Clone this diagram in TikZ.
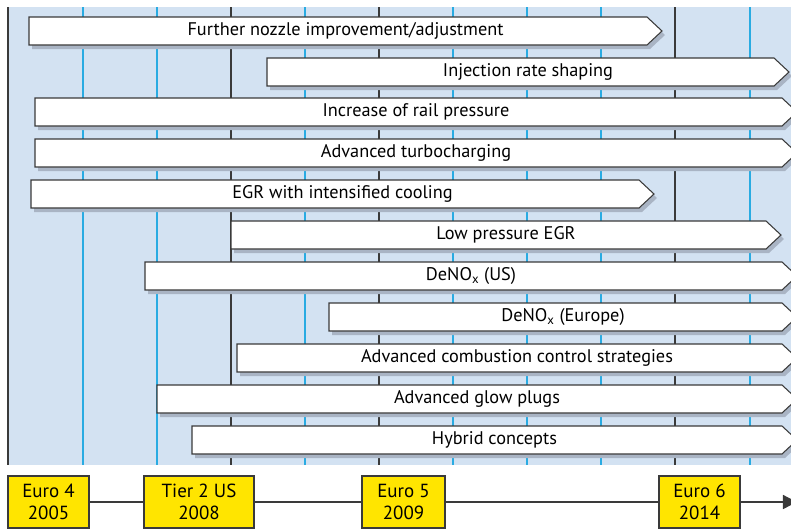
\documentclass[tikz,border=0pt]{standalone}
\usepackage{fontspec}
\setmainfont{PT Sans}
\usetikzlibrary{arrows.meta}

\definecolor{panelblue}{HTML}{D3E2F2}
\definecolor{gridblue}{HTML}{29ABE2}
\definecolor{gridgray}{HTML}{3A3A3A}
\definecolor{shadowgray}{HTML}{A9B4C4}
\definecolor{milestoneyellow}{HTML}{FFE500}

\tikzset{
  barbox/.style={draw=gridgray, fill=white, line width=0.75pt, line join=miter},
  barshade/.style={fill=shadowgray},
  barlabel/.style={font=\fontsize{13}{15}\selectfont, inner sep=0pt},
  milestone/.style={draw=gridgray, fill=milestoneyellow, line width=0.75pt,
    align=center, font=\fontsize{13.5}{16}\selectfont, inner sep=0pt},
  timeline/.style={draw=gridgray, line width=0.9pt}
}

% one technology bar: name, left edge, tip, top edge, label
\newcommand{\trendbar}[5]{%
  \fill[barshade] (#2+3,#4+4) -- (#3-15+3,#4+4) -- (#3+3,#4+14+4) -- (#3-15+3,#4+28+4) -- (#2+3,#4+28+4) -- cycle;
  \draw[barbox] (#2,#4) -- (#3-15,#4) -- (#3,#4+14) -- (#3-15,#4+28) -- (#2,#4+28) -- cycle;
  \node[barlabel] (#1) at ({(#2+#3)/2},#4+14) {#5};%
}

\begin{document}
\begin{tikzpicture}[x=0.025cm, y=-0.025cm]
\useasboundingbox (0,0) rectangle (791,529);
\clip (0,0) rectangle (791,529);

% Background panel
\fill[panelblue] (8,7) rectangle (800,465);

% Year grid
\draw[gridblue, line width=1pt] (83,7) -- (83,465);
\draw[gridblue, line width=1pt] (157,7) -- (157,465);
\draw[gridblue, line width=1pt] (305,7) -- (305,465);
\draw[gridblue, line width=1pt] (453,7) -- (453,465);
\draw[gridblue, line width=1pt] (527,7) -- (527,465);
\draw[gridblue, line width=1pt] (601,7) -- (601,465);
\draw[gridblue, line width=1pt] (750,7) -- (750,465);
\draw[gridgray, line width=0.75pt] (8,7) -- (8,465);
\draw[gridgray, line width=0.75pt] (231,7) -- (231,465);
\draw[gridgray, line width=0.75pt] (379,7) -- (379,465);
\draw[gridgray, line width=0.75pt] (675,7) -- (675,465);

% Technology bars
\trendbar{nozzle}{29}{662}{17}{Further nozzle improvement/adjustment}
\trendbar{rate}{267}{789}{58}{Injection rate shaping}
\trendbar{rail}{35}{797}{98}{Increase of rail pressure}
\trendbar{turbo}{35}{797}{139}{Advanced turbocharging}
\trendbar{egr}{31}{654}{180}{EGR with intensified cooling}
\trendbar{lpegr}{231}{781}{221}{Low pressure EGR}
\trendbar{denoxus}{145}{797}{262}{DeNO\textsubscript{x} (US)}
\trendbar{denoxeu}{329}{797}{303}{DeNO\textsubscript{x} (Europe)}
\trendbar{combustion}{237}{797}{344}{Advanced combustion control strategies}
\trendbar{glow}{157}{797}{385}{Advanced glow plugs}
\trendbar{hybrid}{192}{797}{426}{Hybrid concepts}

% Emission limits
\node[milestone, minimum width=81*0.025cm, minimum height=52*0.025cm] (euro4) at (48.5,502) {Euro 4\\2005};
\node[milestone, minimum width=110*0.025cm, minimum height=52*0.025cm] (tier2) at (199,502) {Tier 2 US\\2008};
\node[milestone, minimum width=83*0.025cm, minimum height=52*0.025cm] (euro5) at (403.5,502) {Euro 5\\2009};
\node[milestone, minimum width=81*0.025cm, minimum height=52*0.025cm] (euro6) at (699.5,502) {Euro 6\\2014};
\coordinate (tlend) at (797,502);

\draw[timeline] (euro4) -- (tier2);
\draw[timeline] (tier2) -- (euro5);
\draw[timeline] (euro5) -- (euro6);
\draw[timeline, -{Triangle[length=10pt, width=10pt]}] (euro6) -- (tlend);
\end{tikzpicture}
\end{document}
